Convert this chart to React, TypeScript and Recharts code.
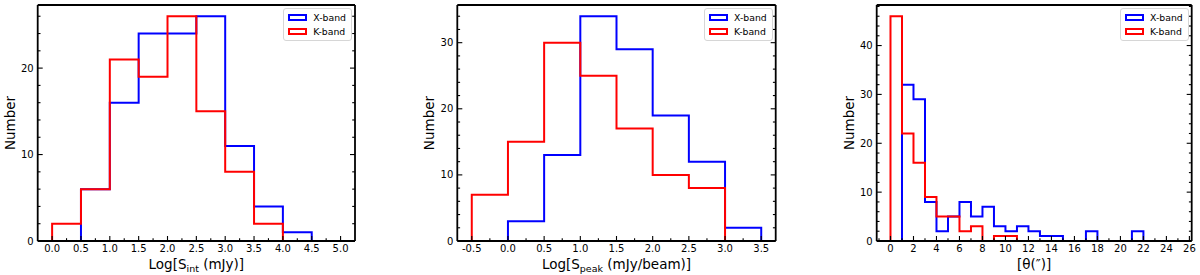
import React from 'react';
import { LineChart, Line, XAxis, YAxis, Legend } from 'recharts';

const FONT = '"DejaVu Sans", Verdana, sans-serif';
const BLUE = '#0000ff';
const RED = '#ff0000';
const SERIES_ORDER = ['X-band', 'K-band'];

// ---------- Panel 1: Log[S_int (mJy)] ----------
const sintEdgesX = [0.5, 1.0, 1.5, 2.0, 2.5, 3.0, 3.5, 4.0, 4.5];
const sintCountsX = [6, 16, 24, 24, 26, 11, 4, 1];
const sintEdgesK = [0.0, 0.5, 1.0, 1.5, 2.0, 2.5, 3.0, 3.5, 4.0];
const sintCountsK = [2, 6, 21, 19, 26, 15, 8, 2];
const sintXTicks = [0.0, 0.5, 1.0, 1.5, 2.0, 2.5, 3.0, 3.5, 4.0, 4.5, 5.0];
const sintYTicks = [0, 10, 20];

// ---------- Panel 2: Log[S_peak (mJy/beam)] ----------
const speakEdgesX = [0.0, 0.5, 1.0, 1.5, 2.0, 2.5, 3.0, 3.5];
const speakCountsX = [3, 13, 34, 29, 19, 12, 2];
const speakEdgesK = [-0.5, 0.0, 0.5, 1.0, 1.5, 2.0, 2.5, 3.0];
const speakCountsK = [7, 15, 30, 25, 17, 10, 8];
const speakXTicks = [-0.5, 0.0, 0.5, 1.0, 1.5, 2.0, 2.5, 3.0, 3.5];
const speakYTicks = [0, 10, 20, 30];

// ---------- Panel 3: [θ(″)] ----------
const thetaEdgesX = [1, 2, 3, 4, 5, 6, 7, 8, 9, 10, 11, 12, 13, 14, 15, 16, 17, 18, 19, 20, 21, 22];
const thetaCountsX = [32, 29, 8, 2, 5, 8, 5, 7, 3, 2, 3, 2, 1, 1, 0, 0, 2, 0, 0, 0, 2];
const thetaEdgesK = [0, 1, 2, 3, 4, 5, 6, 7, 8, 9, 10, 11];
const thetaCountsK = [46, 22, 16, 9, 5, 5, 2, 3, 0, 1, 1];
const thetaXTicks = [0, 2, 4, 6, 8, 10, 12, 14, 16, 18, 20, 22, 24, 26];
const thetaYTicks = [0, 10, 20, 30, 40];

type Pt = { x: number; y: number };

function stepPoints(edges: number[], counts: number[]): Pt[] {
  const pts: Pt[] = [{ x: edges[0], y: 0 }];
  counts.forEach((c, i) => pts.push({ x: edges[i], y: c }));
  pts.push({ x: edges[edges.length - 1], y: 0 });
  return pts;
}

function minorTicks(domain: [number, number], step: number): number[] {
  const out: number[] = [];
  const start = Math.ceil(domain[0] / step - 1e-9) * step;
  for (let v = start; v <= domain[1] + 1e-9; v += step) {
    const r = Math.round(v / step) * step;
    if (r > domain[0] + 1e-9 && r < domain[1] - 1e-9) out.push(r);
  }
  return out;
}

function isIn(v: number, arr: number[]) {
  return arr.some((m) => Math.abs(m - v) < 1e-9);
}

const MAJOR = 5;
const MINOR = 2.8;
const TICK_W = 1.1;

function makeTick(side: 'bottom' | 'left' | 'top' | 'right', majors: number[], fmt?: (v: number) => string) {
  return (props: any) => {
    const { x, y, payload } = props;
    const v = Number(payload.value);
    const major = isIn(v, majors);
    const len = major ? MAJOR : MINOR;
    let line: any = null;
    let label: any = null;
    if (side === 'bottom') {
      line = <line x1={x} y1={y} x2={x} y2={y - len} stroke="#000" strokeWidth={TICK_W} />;
      if (major && fmt)
        label = (
          <text x={x} y={y + 11} textAnchor="middle" fontSize={10} fontFamily={FONT} fill="#000">
            {fmt(v)}
          </text>
        );
    } else if (side === 'left') {
      line = <line x1={x} y1={y} x2={x + len} y2={y} stroke="#000" strokeWidth={TICK_W} />;
      if (major && fmt)
        label = (
          <text x={x - 4} y={y + 3.6} textAnchor="end" fontSize={10} fontFamily={FONT} fill="#000">
            {fmt(v)}
          </text>
        );
    } else if (side === 'top') {
      line = <line x1={x} y1={y} x2={x} y2={y + len} stroke="#000" strokeWidth={TICK_W} />;
    } else {
      line = <line x1={x} y1={y} x2={x - len} y2={y} stroke="#000" strokeWidth={TICK_W} />;
    }
    return (
      <g>
        {line}
        {label}
      </g>
    );
  };
}

const renderLegend = (props: any) => {
  const payload = [...(props.payload || [])].sort(
    (a: any, b: any) => SERIES_ORDER.indexOf(a.value) - SERIES_ORDER.indexOf(b.value)
  );
  return (
    <div
      style={{
        border: '1px solid #d6d6d6',
        borderRadius: 3,
        background: 'rgba(255,255,255,0.85)',
        padding: '1.5px 5px 1.5px 4px',
        fontFamily: FONT,
        fontSize: 9.3,
        color: '#000',
      }}
    >
      {payload.map((e: any) => (
        <div key={e.value} style={{ display: 'flex', alignItems: 'center', height: 14, lineHeight: '14px' }}>
          <span
            style={{
              display: 'inline-block',
              width: 19,
              height: 6.6,
              boxSizing: 'border-box',
              border: `2px solid ${e.color}`,
              marginRight: 6,
            }}
          />
          <span style={{ whiteSpace: 'nowrap' }}>{e.value}</span>
        </div>
      ))}
    </div>
  );
};

type PanelProps = {
  left: number;
  yAxisWidth: number;
  rightWidth: number;
  xDomain: [number, number];
  yDomain: [number, number];
  xMajor: number[];
  xMinorStep: number;
  yMajor: number[];
  yMinorStep: number;
  xFmt: (v: number) => string;
  xLabel: React.ReactNode;
  dataX: Pt[];
  dataK: Pt[];
};

function Panel(p: PanelProps) {
  const xTicks = Array.from(new Set([...p.xMajor, ...minorTicks(p.xDomain, p.xMinorStep)])).sort((a, b) => a - b);
  const yTicks = Array.from(new Set([...p.yMajor, ...minorTicks(p.yDomain, p.yMinorStep)])).sort((a, b) => a - b);
  const yLabel = (lp: any) => {
    const vb = lp.viewBox || {};
    const cx = vb.x + vb.width - 23;
    const cy = vb.y + vb.height / 2;
    return (
      <text x={cx} y={cy} transform={`rotate(-90 ${cx} ${cy})`} textAnchor="middle" fontSize={13.5} fontFamily={FONT} fill="#000">
        Number
      </text>
    );
  };
  const xLabel = (lp: any) => {
    const vb = lp.viewBox || {};
    const cx = vb.x + vb.width / 2;
    const cy = vb.y + 28;
    return (
      <text x={cx} y={cy} textAnchor="middle" fontSize={13.5} fontFamily={FONT} fill="#000">
        {p.xLabel}
      </text>
    );
  };
  return (
    <div style={{ position: 'absolute', left: p.left, top: 0, width: 400, height: 275 }}>
      <LineChart width={400} height={275} margin={{ top: 0, right: 0, bottom: 0, left: 0 }}>
        <XAxis
          xAxisId={0}
          type="number"
          dataKey="x"
          domain={p.xDomain}
          allowDataOverflow
          ticks={xTicks}
          interval={0}
          height={34}
          tickSize={0}
          tickMargin={0}
          tickLine={false}
          axisLine={{ stroke: '#000', strokeWidth: 1.8 }}
          tick={makeTick('bottom', p.xMajor, p.xFmt)}
          label={{ content: xLabel }}
        />
        <XAxis
          xAxisId="top"
          orientation="top"
          type="number"
          domain={p.xDomain}
          allowDataOverflow
          ticks={xTicks}
          interval={0}
          height={5}
          tickSize={0}
          tickMargin={0}
          tickLine={false}
          axisLine={{ stroke: '#000', strokeWidth: 1.8 }}
          tick={makeTick('top', p.xMajor)}
        />
        <YAxis
          yAxisId={0}
          type="number"
          domain={p.yDomain}
          allowDataOverflow
          ticks={yTicks}
          interval={0}
          width={p.yAxisWidth}
          tickSize={0}
          tickMargin={0}
          tickLine={false}
          axisLine={{ stroke: '#000', strokeWidth: 1.8 }}
          tick={makeTick('left', p.yMajor, (v) => String(v))}
          label={{ content: yLabel }}
        />
        <YAxis
          yAxisId="right"
          orientation="right"
          type="number"
          domain={p.yDomain}
          allowDataOverflow
          ticks={yTicks}
          interval={0}
          width={p.rightWidth}
          tickSize={0}
          tickMargin={0}
          tickLine={false}
          axisLine={{ stroke: '#000', strokeWidth: 1.8 }}
          tick={makeTick('right', p.yMajor)}
        />
        <Legend
          layout="vertical"
          align="center"
          verticalAlign="middle"
          itemSorter={null as any}
          wrapperStyle={{ top: 8, right: p.rightWidth + 3, left: 'auto', width: 'auto', height: 'auto' }}
          content={renderLegend}
        />
        <Line
          xAxisId={0}
          yAxisId={0}
          name="X-band"
          data={p.dataX}
          dataKey="y"
          type="stepAfter"
          stroke={BLUE}
          strokeWidth={2}
          dot={false}
          activeDot={false}
          isAnimationActive={false}
        />
        <Line
          xAxisId={0}
          yAxisId={0}
          name="K-band"
          data={p.dataK}
          dataKey="y"
          type="stepAfter"
          stroke={RED}
          strokeWidth={2}
          dot={false}
          activeDot={false}
          isAnimationActive={false}
        />
      </LineChart>
    </div>
  );
}

export default function App() {
  return (
    <div style={{ position: 'absolute', left: 0, top: 0, width: 1200, height: 275, background: '#fff' }}>
      <Panel
        left={0}
        yAxisWidth={37.7}
        rightWidth={45}
        xDomain={[-0.25, 5.25]}
        yDomain={[0, 27.3]}
        xMajor={sintXTicks}
        xMinorStep={0.25}
        yMajor={sintYTicks}
        yMinorStep={2}
        xFmt={(v) => v.toFixed(1)}
        xLabel={
          <>
            <tspan>Log[S</tspan>
            <tspan fontSize={9.5} dy={3}>int</tspan>
            <tspan dy={-3}> (mJy)]</tspan>
          </>
        }
        dataX={stepPoints(sintEdgesX, sintCountsX)}
        dataK={stepPoints(sintEdgesK, sintCountsK)}
      />
      <Panel
        left={400}
        yAxisWidth={57.3}
        rightWidth={24.3}
        xDomain={[-0.7, 3.7]}
        yDomain={[0, 35.7]}
        xMajor={speakXTicks}
        xMinorStep={0.25}
        yMajor={speakYTicks}
        yMinorStep={2}
        xFmt={(v) => v.toFixed(1)}
        xLabel={
          <>
            <tspan>Log[S</tspan>
            <tspan fontSize={9.5} dy={3}>peak</tspan>
            <tspan dy={-3}> (mJy/beam)]</tspan>
          </>
        }
        dataX={stepPoints(speakEdgesX, speakCountsX)}
        dataK={stepPoints(speakEdgesK, speakCountsK)}
      />
      <Panel
        left={800}
        yAxisWidth={76.7}
        rightWidth={8.3}
        xDomain={[-1.2, 26.2]}
        yDomain={[0, 48.3]}
        xMajor={thetaXTicks}
        xMinorStep={1}
        yMajor={thetaYTicks}
        yMinorStep={2}
        xFmt={(v) => String(v)}
        xLabel={<tspan>[θ(″)]</tspan>}
        dataX={stepPoints(thetaEdgesX, thetaCountsX)}
        dataK={stepPoints(thetaEdgesK, thetaCountsK)}
      />
    </div>
  );
}
